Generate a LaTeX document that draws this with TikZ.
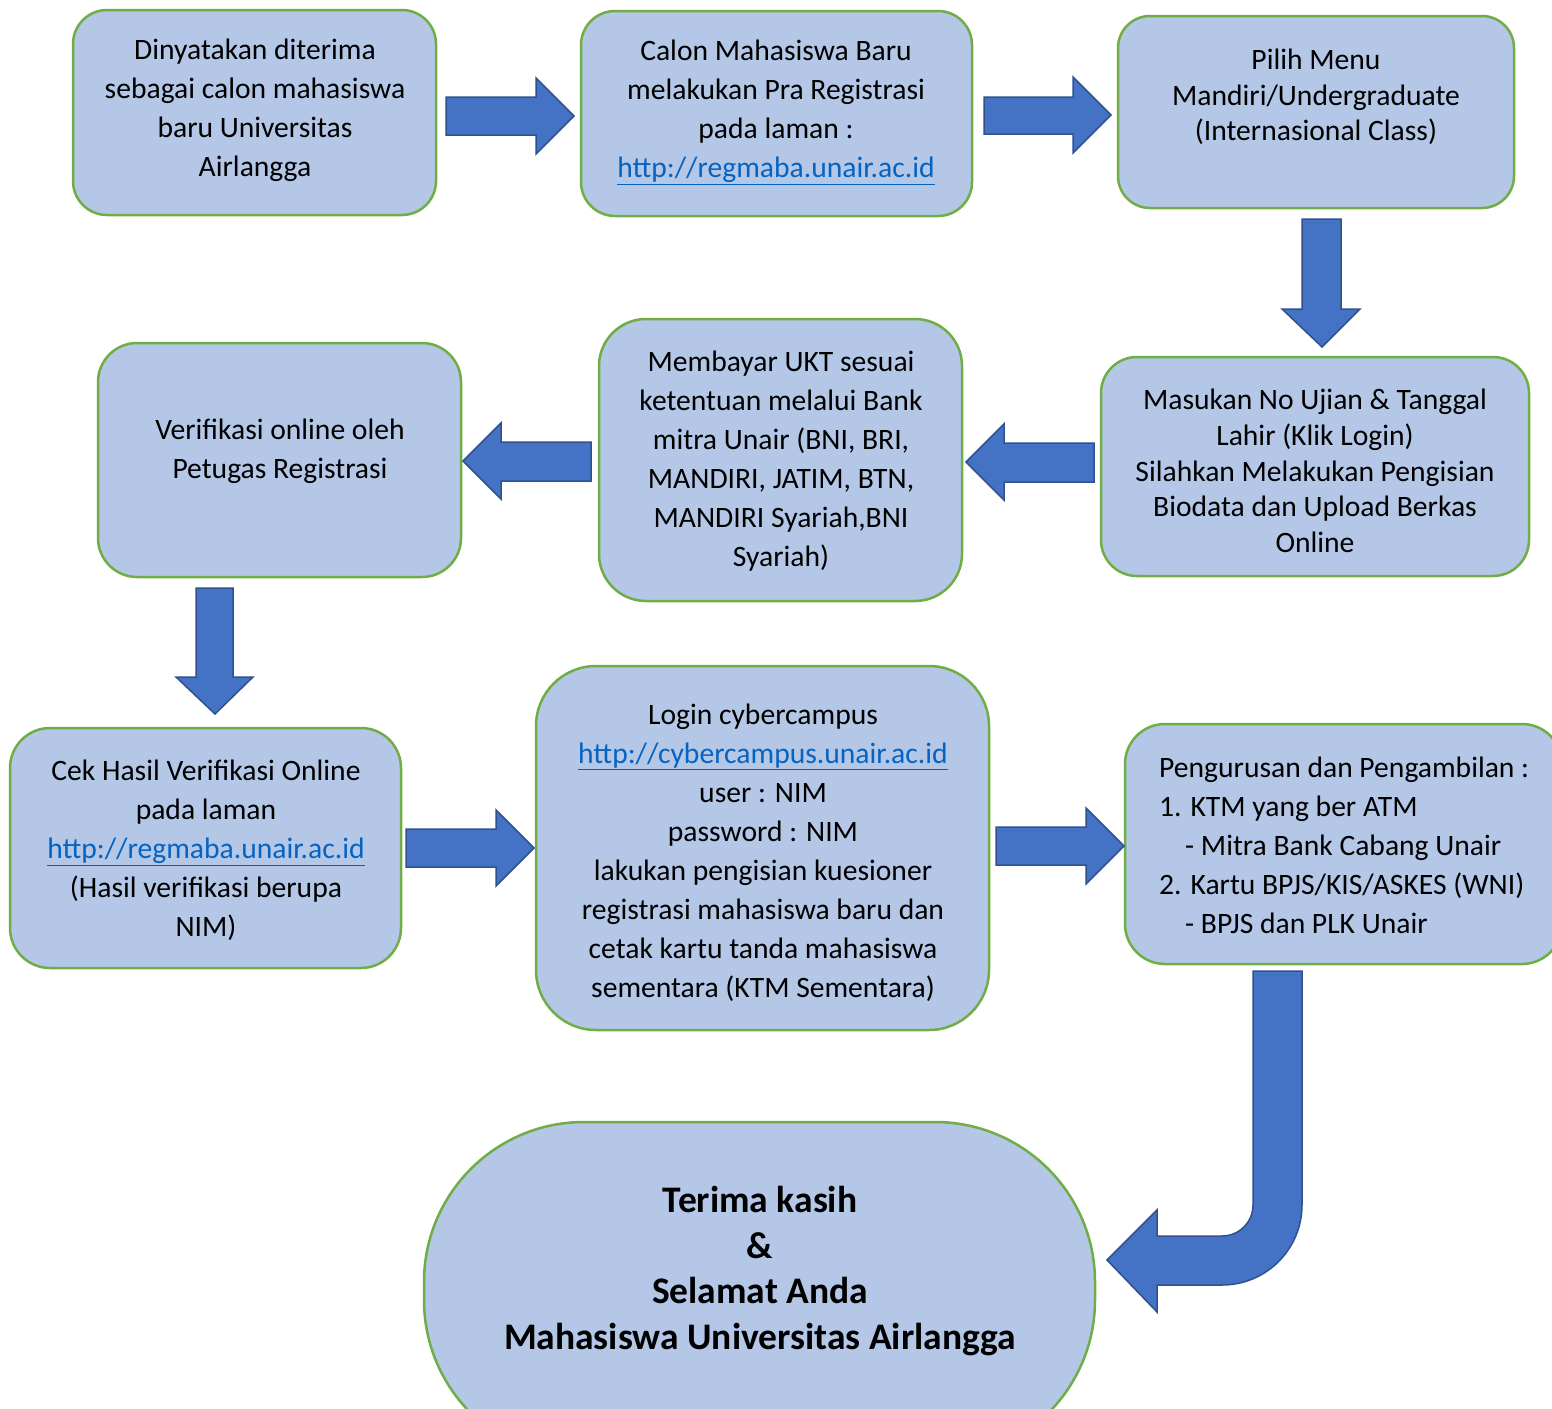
\documentclass[tikz,border=0pt]{standalone}
\usepackage{fontspec}
\setmainfont{Carlito}
\usepackage{xcolor}
\definecolor{boxfill}{HTML}{B4C7E7}
\definecolor{boxgreen}{HTML}{70AD47}
\definecolor{arrowblue}{HTML}{4472C4}
\definecolor{arrowedge}{HTML}{2F528F}
\definecolor{linkblue}{HTML}{0563C1}
\newcommand\lnk[1]{\textcolor{linkblue}{\underline{#1}}}
\tikzset{
  box/.style={draw=boxgreen, line width=2.5pt, fill=boxfill, inner sep=0pt},
  txt/.style={align=center, inner sep=0pt, font=\fontsize{29.6}{39}\selectfont},
  txtb/.style={align=center, inner sep=0pt, font=\fontsize{29.6}{35.6}\selectfont},
  barrow/.style={fill=arrowblue, draw=arrowedge, line width=1.5pt, line join=miter},
}
\begin{document}
\begin{tikzpicture}[x=1pt,y=-1pt]
\useasboundingbox (0,0) rectangle (1552,1408);
\clip (0,0) rectangle (1552,1408);
% boxes
\node[box, minimum width=363, minimum height=205, rounded corners=34] (b1) at (254.5,112.5) {};
\node[box, minimum width=391, minimum height=205, rounded corners=34] (b2) at (776.5,113.5) {};
\node[box, minimum width=396, minimum height=192, rounded corners=32] (b3) at (1316,112) {};
\node[box, minimum width=428, minimum height=219, rounded corners=36] (b4) at (1315,466.5) {};
\node[box, minimum width=363, minimum height=282, rounded corners=47] (b5) at (780.5,460) {};
\node[box, minimum width=363, minimum height=234, rounded corners=39] (b6) at (279.5,460) {};
\node[box, minimum width=391, minimum height=240, rounded corners=40] (b7) at (205.5,848) {};
\node[box, minimum width=453, minimum height=364, rounded corners=60] (b8) at (762.5,848) {};
\node[box, minimum width=437, minimum height=240, rounded corners=40] (b9) at (1343.5,844) {};
\node[box, minimum width=671, minimum height=338, rounded corners=160] (fin) at (759.5,1291) {};
% texts
\node[txt] (t1) at (255,110.5) {Dinyatakan diterima\\sebagai calon mahasiswa\\baru Universitas\\Airlangga};
\node[txt] (t2) at (776,112) {Calon Mahasiswa Baru\\melakukan Pra Registrasi\\pada laman :\\\lnk{http://regmaba.unair.ac.id}};
\node[txtb] (t3) at (1316,97) {Pilih Menu\\Mandiri/Undergraduate\\(Internasional Class)};
\node[txtb] (t4) at (1315,471) {Masukan No Ujian \& Tanggal\\Lahir (Klik Login)\\Silahkan Melakukan Pengisian\\Biodata dan Upload Berkas\\Online};
\node[txt] (t5) at (781,461.5) {Membayar UKT sesuai\\ketentuan melalui Bank\\mitra Unair (BNI, BRI,\\MANDIRI, JATIM, BTN,\\MANDIRI Syariah,BNI\\Syariah)};
\node[txt] (t6) at (280,451.5) {Verifikasi online oleh\\Petugas Registrasi};
\node[txt] (t7) at (206,850) {Cek Hasil Verifikasi Online\\pada laman\\\lnk{http://regmaba.unair.ac.id}\\(Hasil verifikasi berupa\\NIM)};
\node[txt] (t8) at (763,852.5) {Login cybercampus\\\lnk{http://cybercampus.unair.ac.id}\\user : NIM\\password : NIM\\lakukan pengisian kuesioner\\registrasi mahasiswa baru dan\\cetak kartu tanda mahasiswa\\sementara (KTM Sementara)};
\node[txt, align=left, anchor=west] (t9) at (1159,845) {Pengurusan dan Pengambilan :\\1. KTM yang ber ATM\\\hspace*{26pt}- Mitra Bank Cabang Unair\\2. Kartu BPJS/KIS/ASKES (WNI)\\\hspace*{26pt}- BPJS dan PLK Unair};
\node[align=center, inner sep=0pt, font=\fontsize{37.5}{45.7}\selectfont\bfseries] (tf) at (760,1271) {Terima kasih\\\&\\Selamat Anda\\Mahasiswa Universitas Airlangga};
% block arrows
\draw[barrow] (446,97) -- (536,97) -- (536,78) -- (574,116) -- (536,154) -- (536,135) -- (446,135) -- cycle;
\draw[barrow] (984,97) -- (1073,97) -- (1073,77) -- (1111,115) -- (1073,153) -- (1073,134) -- (984,134) -- cycle;
\draw[barrow] (1302,219) -- (1341,219) -- (1341,309) -- (1360,309) -- (1322,347) -- (1282,309) -- (1302,309) -- cycle;
\draw[barrow] (1094,443) -- (1004,443) -- (1004,424) -- (966,462) -- (1004,500) -- (1004,482) -- (1094,482) -- cycle;
\draw[barrow] (591,442) -- (501,442) -- (501,423) -- (463,461) -- (501,499) -- (501,481) -- (591,481) -- cycle;
\draw[barrow] (196,588) -- (233,588) -- (233,677) -- (253,677) -- (215,714) -- (176,677) -- (196,677) -- cycle;
\draw[barrow] (406,829) -- (496,829) -- (496,810) -- (534,848) -- (496,886) -- (496,867) -- (406,867) -- cycle;
\draw[barrow] (996,827) -- (1086,827) -- (1086,808) -- (1124,846) -- (1086,884) -- (1086,865) -- (996,865) -- cycle;
\draw[barrow] (1253,971) -- (1302,971) -- (1302,1205) arc (0:90:80) -- (1157,1285) -- (1157,1312) -- (1107,1260) -- (1157,1210) -- (1157,1236) -- (1222,1236) arc (90:0:31) -- cycle;
\end{tikzpicture}
\end{document}
